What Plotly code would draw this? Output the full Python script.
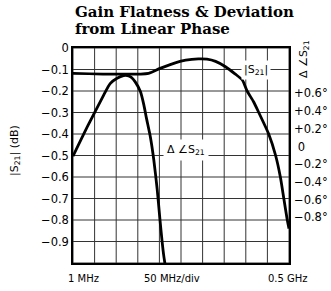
import plotly.graph_objects as go

# |S21| gain flatness (dB) vs frequency (MHz)
s21_mhz = [0, 175, 200, 225, 250, 275, 290, 310, 330, 353, 375, 392, 403, 418, 430, 453, 469, 480, 488, 496, 500]
s21_db = [-0.118, -0.118, -0.096, -0.077, -0.061, -0.053, -0.051, -0.052, -0.062, -0.087, -0.12, -0.149,
          -0.2, -0.25, -0.30, -0.40, -0.50, -0.60, -0.70, -0.80, -0.84]

# Deviation from linear phase (degrees) vs frequency (MHz)
phase_mhz = [0, 35, 71, 86, 102, 117, 126, 135, 144, 156, 164, 170, 179, 187, 195, 201, 206, 210, 215]
phase_deg = [-0.11, 0.24, 0.58, 0.71, 0.77, 0.80, 0.80, 0.78, 0.73, 0.62, 0.47, 0.32, 0.11, -0.15,
             -0.49, -0.81, -1.06, -1.23, -1.39]

left_ticks = [0, -0.1, -0.2, -0.3, -0.4, -0.5, -0.6, -0.7, -0.8, -0.9]
left_labels = ["0", "−0.1", "−0.2", "−0.3", "−0.4", "−0.5", "−0.6", "−0.7", "−0.8", "−0.9"]
right_ticks = [0.6, 0.4, 0.2, 0, -0.2, -0.4, -0.6, -0.8]
right_labels = ["+0.6°", "+0.4°", "+0.2°", "\u00a00", "−0.2°", "−0.4°", "−0.6°", "−0.8°"]
x_grid = [0, 50, 100, 150, 200, 250, 300, 350, 400, 450, 500]
y_grid = [0, -0.1, -0.2, -0.3, -0.4, -0.5, -0.6, -0.7, -0.8, -0.9, -1.0]

W, H = 331, 291
L, R, T, B = 73, 42, 48, 28
pw, ph = W - L - R, H - T - B

def px(x):
    return (x - L) / pw

def py(y):
    return (H - B - y) / ph

sans = "DejaVu Sans"
grid = "#333333"

fig = go.Figure()

# grid lines built from the grid value lists
gx_x, gx_y = [], []
for gx in x_grid:
    gx_x += [gx, gx, None]
    gx_y += [0, -1.0, None]
gy_x, gy_y = [], []
for gy in y_grid:
    gy_x += [0, 500, None]
    gy_y += [gy, gy, None]
fig.add_trace(go.Scatter(x=gx_x + gy_x, y=gx_y + gy_y, mode="lines", line=dict(color=grid, width=1),
                         showlegend=False, hoverinfo="skip"))

fig.add_trace(go.Scatter(x=s21_mhz, y=s21_db, mode="lines",
                         line=dict(color="black", width=2.8, shape="spline", smoothing=0.6),
                         showlegend=False, hoverinfo="skip"))
fig.add_trace(go.Scatter(x=phase_mhz, y=phase_deg, mode="lines", yaxis="y2",
                         line=dict(color="black", width=2.8, shape="spline", smoothing=0.6),
                         showlegend=False, hoverinfo="skip"))

fig.update_layout(
    width=W, height=H,
    margin=dict(l=L, r=R, t=T, b=B, autoexpand=False),
    paper_bgcolor="white", plot_bgcolor="white",
    font=dict(family=sans, size=11, color="black"),
    xaxis=dict(range=[0, 500], showticklabels=False, ticks="", automargin=False,
               showgrid=False, zeroline=False,
               showline=True, linecolor="black", linewidth=1.5, mirror=True),
    yaxis=dict(range=[-1.0, 0], tickvals=left_ticks, ticktext=left_labels, ticks="", automargin=False,
               showgrid=False, zeroline=False,
               showline=True, linecolor="black", linewidth=1.5, mirror=True,
               tickfont=dict(size=11.5, family=sans)),
    yaxis2=dict(overlaying="y", side="right", range=[-1.316, 1.112], tickvals=right_ticks,
                ticktext=right_labels, ticks="", showgrid=False, zeroline=False, showline=False,
                automargin=False, ticklabelstandoff=4, tickfont=dict(size=11.5, family=sans)),
)

def note(x, y, text, size=11, family=sans, **kw):
    fig.add_annotation(x=px(x), y=py(y), xref="paper", yref="paper", text=text, showarrow=False,
                       xanchor=kw.pop("xanchor", "center"), yanchor=kw.pop("yanchor", "middle"),
                       font=dict(size=size, family=family), **kw)

note(73, 12, "<b>Gain Flatness & Deviation</b>", size=15, family="DejaVu Serif", xanchor="left")
note(73, 29.5, "<b>from Linear Phase</b>", size=15, family="DejaVu Serif", xanchor="left")
note(15, 150, "|S<sub>21</sub>| (dB)", textangle=-90)
note(304, 59, "Δ ∠S<sub>21</sub>", textangle=-90)
note(256, 70, "|S<sub>21</sub>|", bgcolor="white", borderpad=2)
note(186, 150, "Δ ∠S<sub>21</sub>", bgcolor="white", borderpad=3)
note(83, 278, "1 MHz", size=10)
note(172, 278, "50 MHz/div", size=10)
note(288, 278, "0.5 GHz", size=10)

fig.write_html("out.html", config={"displayModeBar": False},
               post_script="document.body.style.margin='0';")
